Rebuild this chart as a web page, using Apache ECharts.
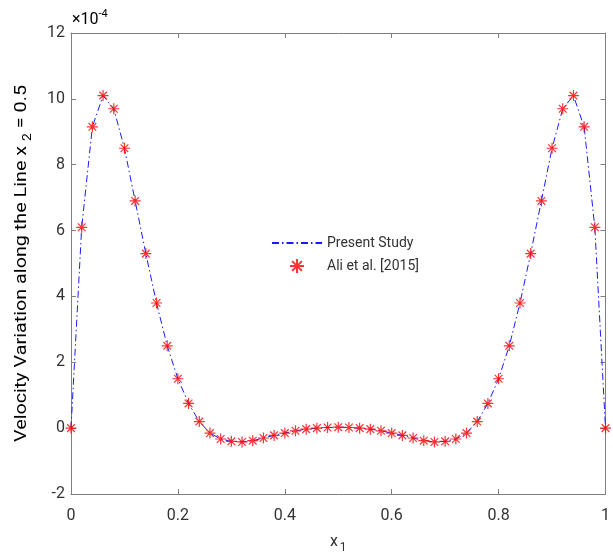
<!DOCTYPE html>
<html><head><meta charset="utf-8">
<script src="https://cdn.jsdelivr.net/npm/echarts@6/dist/echarts.min.js"></script>
<style>html,body{margin:0;padding:0;background:#fff}#c{width:613px;height:559px}</style>
</head><body><div id="c"></div>
<script>
const xValues = [0,0.02,0.04,0.06,0.08,0.10,0.12,0.14,0.16,0.18,0.20,0.22,0.24,0.26,0.28,0.30,0.32,0.34,0.36,0.38,0.40,0.42,0.44,0.46,0.48,0.50,0.52,0.54,0.56,0.58,0.60,0.62,0.64,0.66,0.68,0.70,0.72,0.74,0.76,0.78,0.80,0.82,0.84,0.86,0.88,0.90,0.92,0.94,0.96,0.98,1.00];
const presentStudy = [0,6.1,9.15,10.1,9.7,8.5,6.9,5.3,3.8,2.5,1.5,0.75,0.2,-0.15,-0.33,-0.4,-0.42,-0.38,-0.3,-0.22,-0.15,-0.08,-0.03,0.0,0.02,0.03,0.02,0.0,-0.03,-0.08,-0.15,-0.22,-0.3,-0.38,-0.42,-0.4,-0.33,-0.15,0.2,0.75,1.5,2.5,3.8,5.3,6.9,8.5,9.7,10.1,9.15,6.1,0];
const aliEtAl = [0,6.1,9.15,10.1,9.7,8.5,6.9,5.3,3.8,2.5,1.5,0.75,0.2,-0.15,-0.33,-0.4,-0.42,-0.38,-0.3,-0.22,-0.15,-0.08,-0.03,0.0,0.02,0.03,0.02,0.0,-0.03,-0.08,-0.15,-0.22,-0.3,-0.38,-0.42,-0.4,-0.33,-0.15,0.2,0.75,1.5,2.5,3.8,5.3,6.9,8.5,9.7,10.1,9.15,6.1,0];
const xTicks = [0,0.2,0.4,0.6,0.8,1];
const yTicks = [-2,0,2,4,6,8,10,12];
const yTitleMain = 'Velocity Variation along the Line x ';
const yTitleSub = '2';
const yTitleEnd = ' = 0.5';

const star = 'path://M0,-10L0,10M-10,0L10,0M-7,-7L7,7M-7,7L7,-7';
const axisColor = '#808080';
const labelColor = '#333';
const font = 'Roboto, "Noto Sans", sans-serif';

// stretch the rotated y title to the length seen in the reference
const tFont = 17, sFont = 12;
const cv = document.createElement('canvas').getContext('2d');
cv.font = tFont + 'px Roboto';
let w = cv.measureText(yTitleMain).width + cv.measureText(yTitleEnd).width;
cv.font = sFont + 'px Roboto';
w += cv.measureText(yTitleSub).width;
const stretch = 357 / w;

const chart = echarts.init(document.getElementById('c'), null, {renderer:'canvas'});
const baseAxis = {
  axisLine:{show:true,onZero:false,lineStyle:{color:axisColor,width:1}},
  axisTick:{show:true,inside:true,length:5,lineStyle:{color:axisColor}},
  splitLine:{show:false}
};
chart.setOption({
  animation:false,
  grid:{left:71,right:6,top:33,bottom:65,containLabel:false},
  legend:{
    orient:'vertical', left:266, top:231, itemWidth:50, itemHeight:14, itemGap:8,
    textStyle:{fontFamily:font,fontSize:14,color:labelColor},
    data:[{name:'Present Study',itemStyle:{opacity:0}},{name:'Ali et al. [2015]',icon:star}]
  },
  xAxis:[
    Object.assign({},baseAxis,{type:'value',min:0,max:1,interval:0.2,position:'bottom',
      axisLabel:{margin:14,fontFamily:font,fontSize:16,color:labelColor,formatter:v=>xTicks.includes(+v.toFixed(2))?String(+v.toFixed(2)):''},
      name:'{x|x}{s|1}',nameLocation:'middle',nameGap:36,
      nameTextStyle:{rich:{x:{fontFamily:font,fontSize:16,color:labelColor},s:{fontFamily:font,fontSize:12,color:labelColor,padding:[12,0,0,2]}}}}),
    Object.assign({},baseAxis,{type:'value',min:0,max:1,interval:0.2,position:'top',axisLabel:{show:false}})
  ],
  yAxis:[
    Object.assign({},baseAxis,{type:'value',min:-2,max:12,interval:2,position:'left',
      axisLabel:{margin:6,fontFamily:font,fontSize:16,color:labelColor,formatter:v=>yTicks.includes(v)?String(v):''}}),
    Object.assign({},baseAxis,{type:'value',min:-2,max:12,interval:2,position:'right',axisLabel:{show:false}})
  ],
  graphic:[
    {type:'text',left:72,top:9,style:{rich:{a:{fontFamily:font,fontSize:16,color:labelColor},b:{fontFamily:font,fontSize:11,color:labelColor,padding:[0,0,10,0]}},text:'{a|×10}{b|-4}'}},
    {type:'text',left:13,top:85,rotation:Math.PI/2,scaleX:stretch,scaleY:1,
      style:{text:'{t|'+yTitleMain+'}{s|'+yTitleSub+'}{t|'+yTitleEnd+'}',
        rich:{t:{fontFamily:font,fontSize:tFont,color:labelColor},s:{fontFamily:font,fontSize:sFont,color:labelColor,padding:[12,0,0,0]}}}}
  ],
  series:[
    {name:'Present Study',type:'line',smooth:false,symbol:'none',data:xValues.map((x,i)=>[x,presentStudy[i]]),
      lineStyle:{color:'#1a1aff',width:1,type:[7,3,1.5,3]},itemStyle:{color:'#1a1aff'},z:2},
    {name:'Ali et al. [2015]',type:'scatter',symbol:star,symbolSize:11,data:xValues.map((x,i)=>[x,aliEtAl[i]]),
      itemStyle:{color:'#ff0000',borderColor:'#ff0000',borderWidth:1.2},z:3}
  ]
});
</script></body></html>
